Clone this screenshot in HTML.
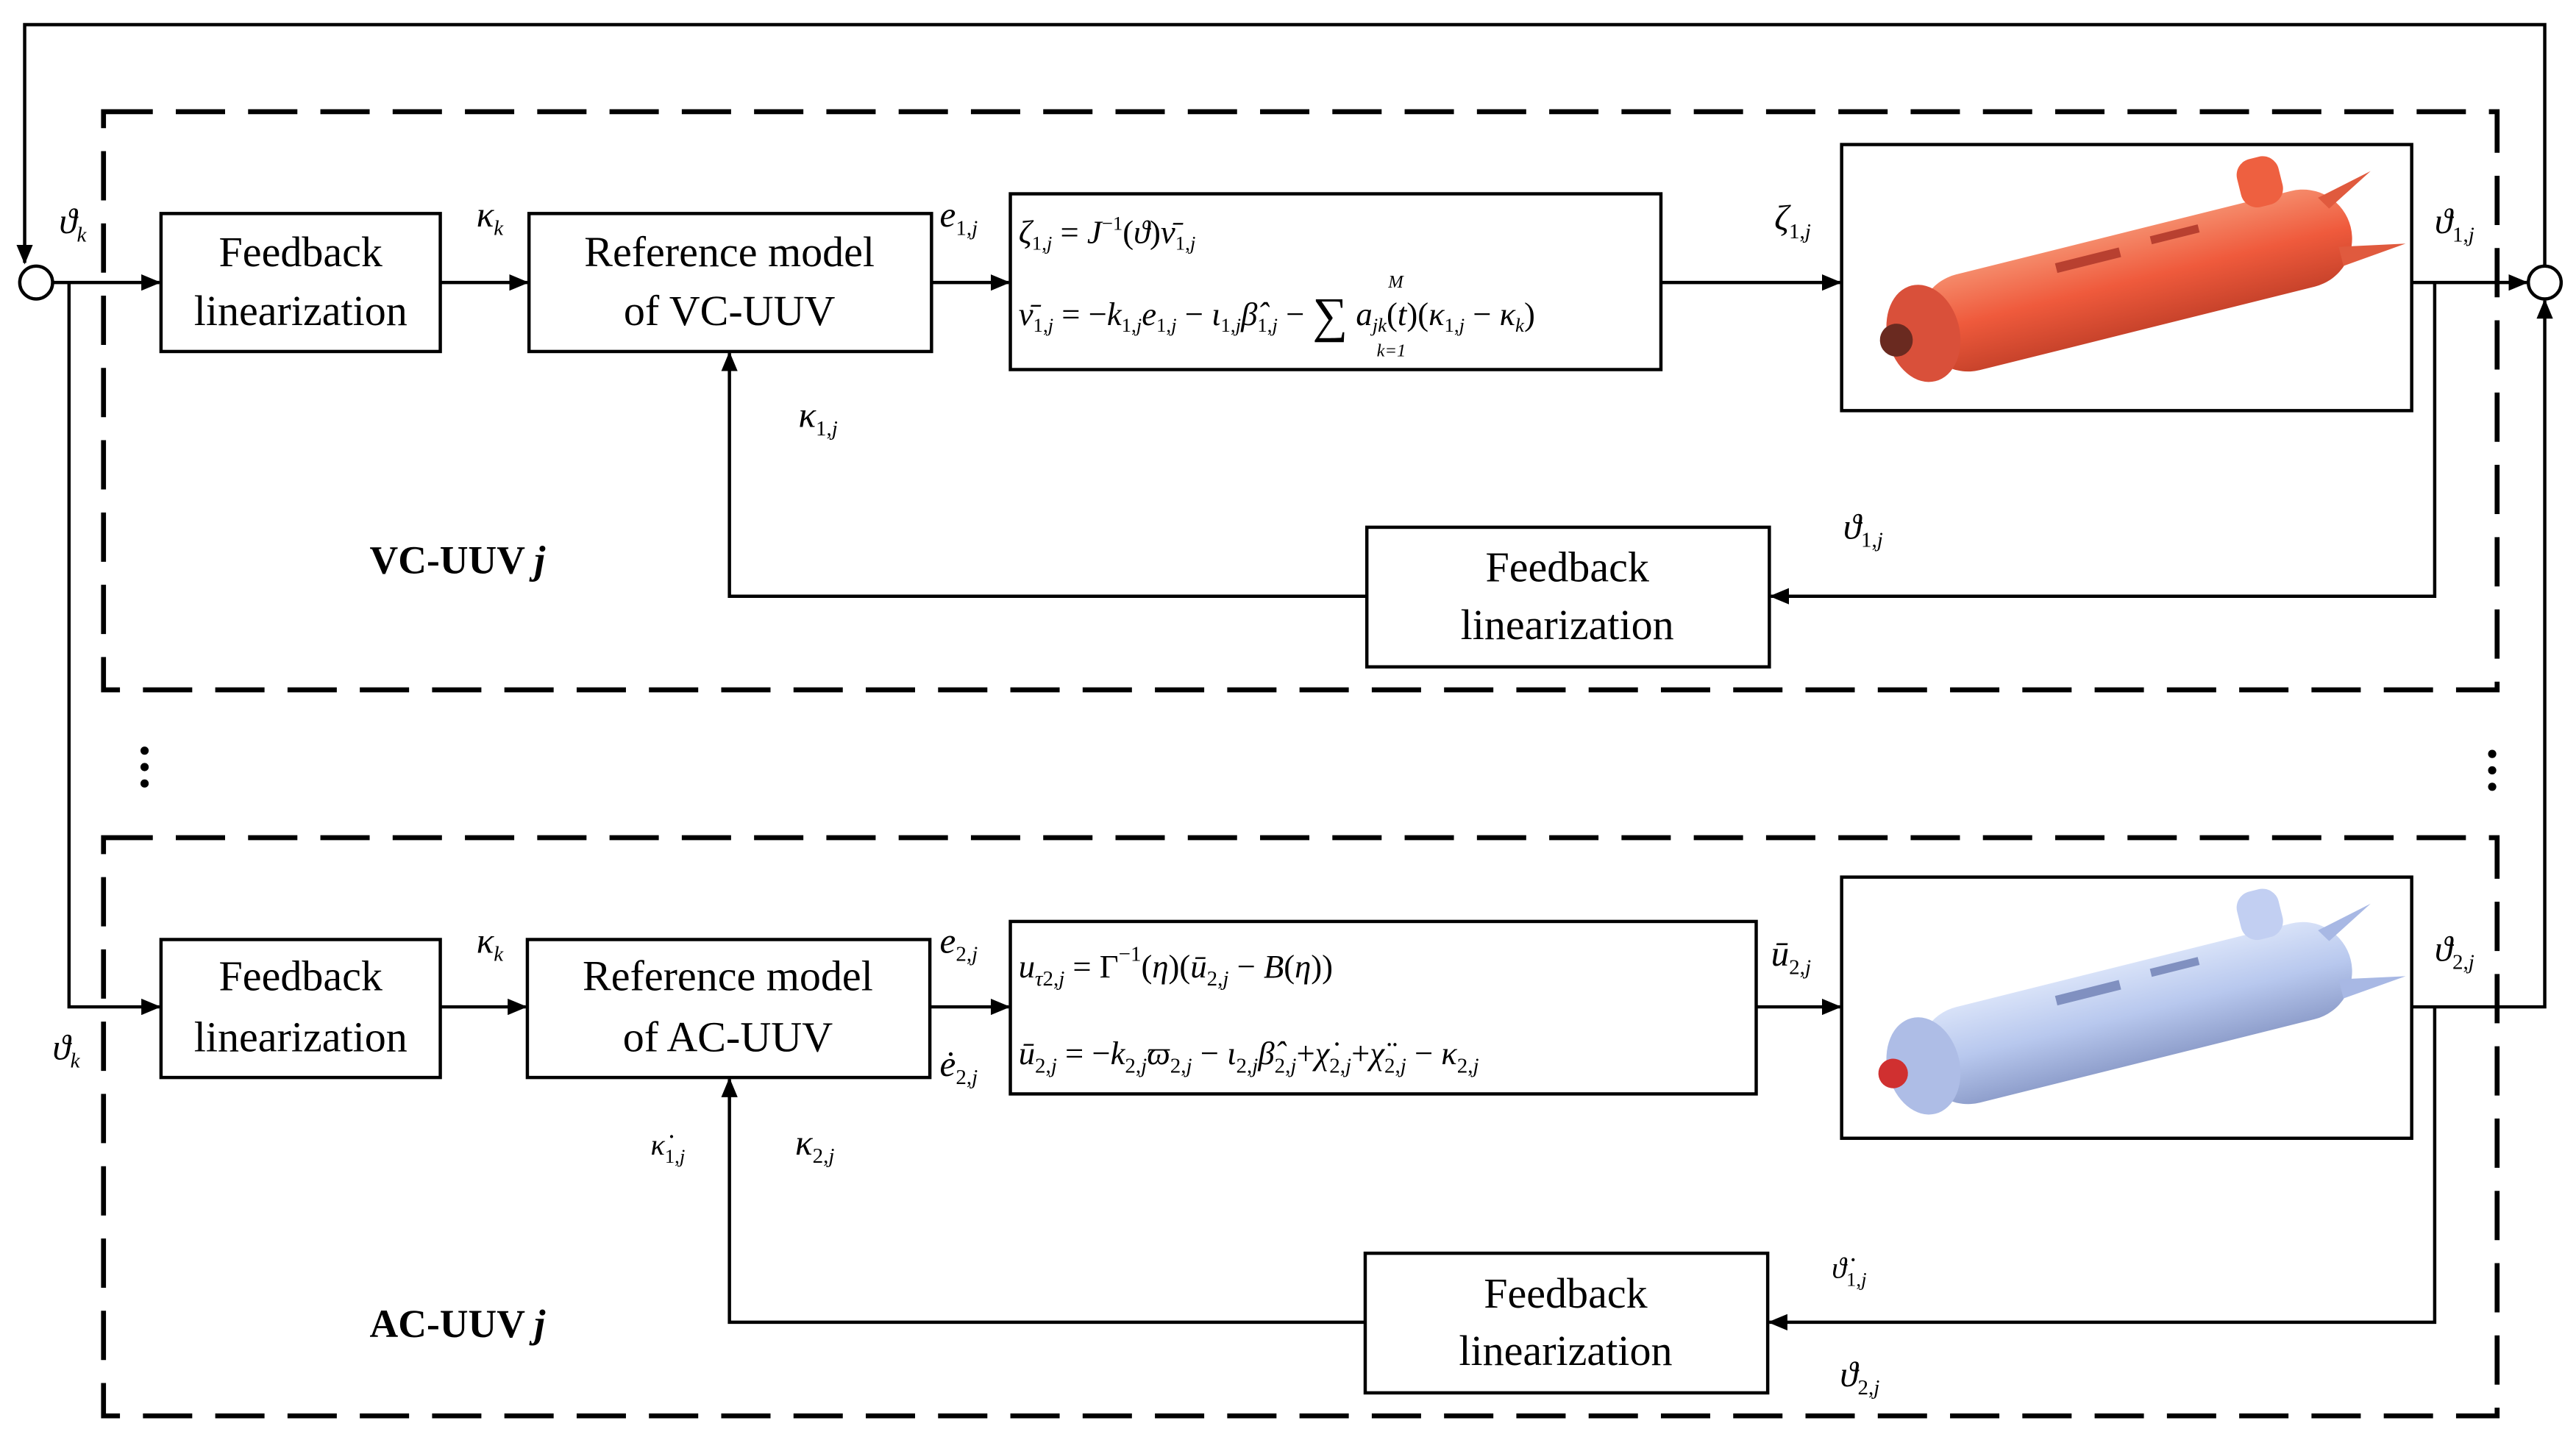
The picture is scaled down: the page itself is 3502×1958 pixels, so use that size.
<!DOCTYPE html>
<html><head><meta charset="utf-8"><style>
html,body{margin:0;padding:0;background:#fff;}
svg{display:block;font-family:"Liberation Serif","DejaVu Serif",serif;}
text,tspan{font-family:"Liberation Serif","DejaVu Serif",serif !important;fill:#000;}
.lbl{font-size:26px;}
.it{font-style:italic;font-size:22px;}
.eq{font-style:italic;font-size:20px;}
</style></head><body>
<svg width="3502" height="1958" viewBox="0 0 1568 876.7" xmlns="http://www.w3.org/2000/svg" font-family="Liberation Serif, serif">
<defs>
<marker id="a" markerWidth="12" markerHeight="10" refX="11" refY="5" orient="auto" markerUnits="userSpaceOnUse">
<path d="M0,0 L12,5 L0,10 Z" fill="#000"/></marker>
<linearGradient id="og" x1="0" y1="0" x2="0" y2="1"><stop offset="0" stop-color="#f58a6a"/><stop offset="0.5" stop-color="#ef5a3c"/><stop offset="1" stop-color="#c8432b"/></linearGradient>
<linearGradient id="bg" x1="0" y1="0" x2="0" y2="1"><stop offset="0" stop-color="#d8e2f8"/><stop offset="0.5" stop-color="#b8c8ee"/><stop offset="1" stop-color="#8f9fcc"/></linearGradient>
</defs>
<g fill="none" stroke="#000" stroke-width="2">
<polyline points="1549,162 1549,15 15,15 15,160" marker-end="url(#a)"/>
<circle cx="22" cy="172" r="10" fill="#fff"/>
<circle cx="1549" cy="172" r="10" fill="#fff"/>
<rect x="63" y="68" width="1457" height="352" stroke-width="3" stroke-dasharray="30,14"/>
<rect x="63" y="510" width="1457" height="352" stroke-width="3" stroke-dasharray="30,14"/>
<rect x="98" y="130" width="170" height="84"/>
<rect x="322" y="130" width="245" height="84"/>
<rect x="615" y="118" width="396" height="107"/>
<rect x="1121" y="88" width="347" height="162"/>
<line x1="32" y1="172" x2="97" y2="172" marker-end="url(#a)"/>
<line x1="268" y1="172" x2="321" y2="172" marker-end="url(#a)"/>
<line x1="567" y1="172" x2="614" y2="172" marker-end="url(#a)"/>
<line x1="1011" y1="172" x2="1120" y2="172" marker-end="url(#a)"/>
<line x1="1468" y1="172" x2="1538" y2="172" marker-end="url(#a)"/>
<rect x="832" y="321" width="245" height="85"/>
<polyline points="1482,172 1482,363 1078,363" marker-end="url(#a)"/>
<polyline points="832,363 444,363 444,215" marker-end="url(#a)"/>
<polyline points="42,172 42,613 97,613" marker-end="url(#a)"/>
<rect x="98" y="572" width="170" height="84"/>
<rect x="321" y="572" width="245" height="84"/>
<rect x="615" y="561" width="454" height="105"/>
<rect x="1121" y="534" width="347" height="159"/>
<line x1="268" y1="613" x2="320" y2="613" marker-end="url(#a)"/>
<line x1="566" y1="613" x2="614" y2="613" marker-end="url(#a)"/>
<line x1="1069" y1="613" x2="1120" y2="613" marker-end="url(#a)"/>
<polyline points="1468,613 1549,613 1549,183" marker-end="url(#a)"/>
<rect x="831" y="763" width="245" height="85"/>
<polyline points="1482,613 1482,805 1077,805" marker-end="url(#a)"/>
<polyline points="831,805 444,805 444,657" marker-end="url(#a)"/>
</g>
<g fill="#000"><circle cx="88" cy="457" r="2.5"/><circle cx="88" cy="467" r="2.5"/><circle cx="88" cy="477" r="2.5"/>
<circle cx="1517" cy="459" r="2.5"/><circle cx="1517" cy="469" r="2.5"/><circle cx="1517" cy="479" r="2.5"/></g>
<g font-family="Liberation Serif, serif">
<g class="lbl" text-anchor="middle">
<text x="183" y="162">Feedback</text><text x="183" y="198">linearization</text>
<text x="444" y="162">Reference model</text><text x="444" y="198">of VC-UUV</text>
<text x="954" y="354">Feedback</text><text x="954" y="389">linearization</text>
<text x="183" y="603">Feedback</text><text x="183" y="640">linearization</text>
<text x="443" y="603">Reference model</text><text x="443" y="640">of AC-UUV</text>
<text x="953" y="796">Feedback</text><text x="953" y="831">linearization</text>
</g>
<text x="225" y="349" font-size="24" font-weight="bold">VC-UUV <tspan font-style="italic">j</tspan></text>
<text x="225" y="814" font-size="24" font-weight="bold">AC-UUV <tspan font-style="italic">j</tspan></text>
<g class="it">
<text x="36" y="142">ϑ<tspan font-size="13" dy="5">k</tspan></text>
<text x="290" y="138">κ<tspan font-size="13" dy="5">k</tspan></text>
<text x="572" y="138">e<tspan font-size="13" dy="5" font-style="normal">1,</tspan><tspan font-size="13">j</tspan></text>
<text x="1080" y="140">ζ<tspan font-size="13" dy="5" font-style="normal">1,</tspan><tspan font-size="13">j</tspan></text>
<text x="1482" y="142">ϑ<tspan font-size="13" dy="5" font-style="normal">1,</tspan><tspan font-size="13">j</tspan></text>
<text x="486" y="260">κ<tspan font-size="13" dy="5" font-style="normal">1,</tspan><tspan font-size="13">j</tspan></text>
<text x="1122" y="328">ϑ<tspan font-size="13" dy="5" font-style="normal">1,</tspan><tspan font-size="13">j</tspan></text>
<text x="32" y="645">ϑ<tspan font-size="13" dy="5">k</tspan></text>
<text x="290" y="580">κ<tspan font-size="13" dy="5">k</tspan></text>
<text x="572" y="580">e<tspan font-size="13" dy="5" font-style="normal">2,</tspan><tspan font-size="13">j</tspan></text>
<text x="572" y="655">ė<tspan font-size="13" dy="5" font-style="normal">2,</tspan><tspan font-size="13">j</tspan></text>
<text x="1078" y="588">ū<tspan font-size="13" dy="5" font-style="normal">2,</tspan><tspan font-size="13">j</tspan></text>
<text x="1482" y="585">ϑ<tspan font-size="13" dy="5" font-style="normal">2,</tspan><tspan font-size="13">j</tspan></text>
<text x="396" y="703" font-size="18">κ̇<tspan font-size="12" dy="5" font-style="normal">1,</tspan><tspan font-size="12">j</tspan></text>
<text x="484" y="703">κ<tspan font-size="13" dy="5" font-style="normal">2,</tspan><tspan font-size="13">j</tspan></text>
<text x="1115" y="778" font-size="18">ϑ̇<tspan font-size="12" dy="5" font-style="normal">1,</tspan><tspan font-size="12">j</tspan></text>
<text x="1120" y="844">ϑ<tspan font-size="13" dy="5" font-style="normal">2,</tspan><tspan font-size="13">j</tspan></text>
</g>
<text class="eq" x="620" y="148">ζ<tspan font-size="12" dy="4" font-style="normal">1,</tspan><tspan font-size="12">j</tspan><tspan dy="-4" font-style="normal"> = </tspan>J<tspan font-size="12" dy="-8" font-style="normal">−1</tspan><tspan dy="8" font-style="normal">(</tspan>ϑ<tspan font-style="normal">)</tspan>ν̄<tspan font-size="12" dy="4" font-style="normal">1,</tspan><tspan font-size="12">j</tspan></text>
<text class="eq" x="620" y="198">ν̄<tspan font-size="12" dy="4" font-style="normal">1,</tspan><tspan font-size="12">j</tspan><tspan dy="-4" font-style="normal"> = −</tspan>k<tspan font-size="12" dy="4" font-style="normal">1,</tspan><tspan font-size="12">j</tspan><tspan dy="-4">e</tspan><tspan font-size="12" dy="4" font-style="normal">1,</tspan><tspan font-size="12">j</tspan><tspan dy="-4" font-style="normal"> − </tspan>ι<tspan font-size="12" dy="4" font-style="normal">1,</tspan><tspan font-size="12">j</tspan><tspan dy="-4">β̂</tspan><tspan font-size="12" dy="4" font-style="normal">1,</tspan><tspan font-size="12">j</tspan><tspan dy="-4" font-style="normal"> − </tspan><tspan font-size="30" font-style="normal" dy="4">∑</tspan><tspan dy="-4"> a</tspan><tspan font-size="12" dy="4">jk</tspan><tspan dy="-4" font-style="normal">(</tspan>t<tspan font-style="normal">)(</tspan>κ<tspan font-size="12" dy="4" font-style="normal">1,</tspan><tspan font-size="12">j</tspan><tspan dy="-4" font-style="normal"> − </tspan>κ<tspan font-size="12" dy="4">k</tspan><tspan dy="-4" font-style="normal">)</tspan></text>
<text x="845" y="175" font-size="11" font-style="italic">M</text>
<text x="838" y="217" font-size="11" font-style="italic">k=1</text>
<text class="eq" x="620" y="595" font-size="24">u<tspan font-size="13" dy="5">τ</tspan><tspan font-size="13" font-style="normal">2,</tspan><tspan font-size="13">j</tspan><tspan dy="-5" font-style="normal"> = Γ</tspan><tspan font-size="13" dy="-10" font-style="normal">−1</tspan><tspan dy="10" font-style="normal">(</tspan>η<tspan font-style="normal">)(</tspan>ū<tspan font-size="13" dy="5" font-style="normal">2,</tspan><tspan font-size="13">j</tspan><tspan dy="-5" font-style="normal"> − </tspan>B<tspan font-style="normal">(</tspan>η<tspan font-style="normal">))</tspan></text>
<text class="eq" x="620" y="648" font-size="23">ū<tspan font-size="13" dy="5" font-style="normal">2,</tspan><tspan font-size="13">j</tspan><tspan dy="-5" font-style="normal"> = −</tspan>k<tspan font-size="13" dy="5" font-style="normal">2,</tspan><tspan font-size="13">j</tspan><tspan dy="-5">ϖ</tspan><tspan font-size="13" dy="5" font-style="normal">2,</tspan><tspan font-size="13">j</tspan><tspan dy="-5" font-style="normal"> − </tspan>ι<tspan font-size="13" dy="5" font-style="normal">2,</tspan><tspan font-size="13">j</tspan><tspan dy="-5">β̂</tspan><tspan font-size="13" dy="5" font-style="normal">2,</tspan><tspan font-size="13">j</tspan><tspan dy="-5" font-style="normal">+</tspan>χ̇<tspan font-size="13" dy="5" font-style="normal">2,</tspan><tspan font-size="13">j</tspan><tspan dy="-5" font-style="normal">+</tspan>χ̈<tspan font-size="13" dy="5" font-style="normal">2,</tspan><tspan font-size="13">j</tspan><tspan dy="-5" font-style="normal"> − </tspan>κ<tspan font-size="13" dy="5" font-style="normal">2,</tspan><tspan font-size="13">j</tspan></text>
</g>
<g transform="translate(1295,172) rotate(-14)">
<rect x="-130" y="-30" width="270" height="60" rx="30" fill="url(#og)"/>
<ellipse cx="-128" cy="0" rx="22" ry="30" fill="#d9503a"/>
<circle cx="-145" cy="0" r="10" fill="#6a2a20"/>
<rect x="80" y="-55" width="26" height="30" rx="10" fill="#ee6040"/>
<polygon points="130,10 170,18 130,22" fill="#e05a3e"/>
<polygon points="125,-22 160,-30 130,-14" fill="#e05a3e"/>
<rect x="-40" y="-22" width="40" height="6" fill="#b84030"/>
<rect x="20" y="-24" width="30" height="5" fill="#b84030"/>
</g>
<g transform="translate(1295,618) rotate(-14)">
<rect x="-130" y="-30" width="270" height="60" rx="30" fill="url(#bg)"/>
<ellipse cx="-128" cy="0" rx="22" ry="30" fill="#aebde6"/>
<circle cx="-147" cy="0" r="9" fill="#d03030"/>
<rect x="80" y="-55" width="26" height="30" rx="10" fill="#c2cff2"/>
<polygon points="130,10 170,18 130,22" fill="#a8b8e4"/>
<polygon points="125,-22 160,-30 130,-14" fill="#a8b8e4"/>
<rect x="-40" y="-22" width="40" height="6" fill="#8090c0"/>
<rect x="20" y="-24" width="30" height="5" fill="#8090c0"/>
</g>
</svg>
</body></html>
